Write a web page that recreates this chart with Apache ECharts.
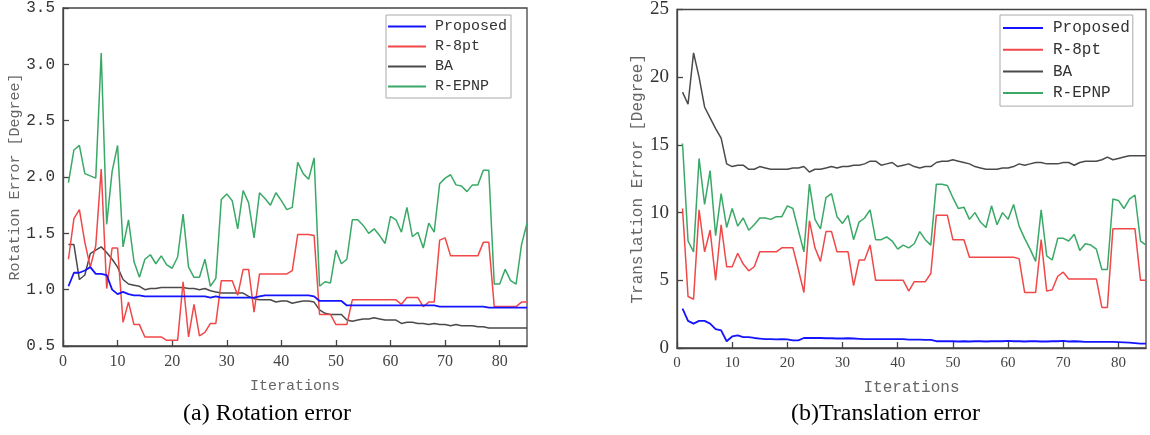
<!DOCTYPE html>
<html>
<head>
<meta charset="utf-8">
<script src="https://cdn.jsdelivr.net/npm/echarts@6/dist/echarts.min.js"></script>
<style>
html,body{margin:0;padding:0;background:#fff;}
#chart{width:1150px;height:435px;}
</style>
</head>
<body>
<div id="chart"></div>
<script>
// ---------- data ----------
const seriesNames = ['Proposed', 'R-8pt', 'BA', 'R-EPNP'];
const iterations = Array.from({length: 85}, (_, k) => k + 1);

const rotProposed = [1.03,1.15,1.15,1.17,1.20,1.14,1.14,1.13,1.00,0.96,
  0.98,0.96,0.95,0.95,0.94,0.94,0.94,0.94,0.94,0.94,
  0.94,0.94,0.94,0.94,0.94,0.94,0.93,0.94,0.93,0.93,
  0.93,0.93,0.93,0.93,0.93,0.94,0.95,0.95,0.95,0.95,
  0.95,0.95,0.95,0.95,0.95,0.94,0.90,0.90,0.90,0.90,
  0.90,0.86,0.86,0.86,0.86,0.86,0.86,0.86,0.86,0.86,
  0.86,0.86,0.86,0.86,0.86,0.86,0.86,0.86,0.85,0.85,
  0.85,0.85,0.85,0.85,0.85,0.85,0.85,0.84,0.84,0.84,
  0.84,0.84,0.84,0.84,0.84];
const rotR8pt = [1.27,1.63,1.71,1.42,1.20,1.39,2.07,1.01,1.37,1.37,
  0.71,0.89,0.69,0.69,0.58,0.58,0.58,0.58,0.55,0.55,
  0.55,1.07,0.58,0.87,0.59,0.62,0.70,0.70,1.08,1.08,
  1.08,0.95,1.18,1.18,0.80,1.14,1.14,1.14,1.14,1.14,
  1.14,1.17,1.49,1.49,1.49,1.48,0.78,0.78,0.78,0.69,
  0.69,0.69,0.91,0.91,0.91,0.91,0.91,0.91,0.91,0.91,
  0.91,0.87,0.93,0.93,0.93,0.85,0.89,0.89,1.44,1.46,
  1.30,1.30,1.30,1.30,1.30,1.30,1.42,1.42,0.85,0.85,
  0.85,0.85,0.85,0.89,0.89];
const rotBA = [1.40,1.40,1.09,1.13,1.32,1.35,1.38,1.33,1.27,1.20,
  1.09,1.05,1.04,1.03,1.00,1.01,1.01,1.02,1.02,1.02,
  1.02,1.02,1.01,1.01,1.00,1.01,0.99,0.98,0.97,0.97,
  0.97,0.97,0.97,0.94,0.92,0.91,0.91,0.91,0.89,0.90,
  0.90,0.88,0.89,0.90,0.90,0.89,0.82,0.79,0.78,0.78,
  0.78,0.73,0.72,0.73,0.74,0.74,0.75,0.74,0.73,0.73,
  0.73,0.70,0.71,0.71,0.70,0.70,0.69,0.70,0.69,0.69,
  0.68,0.69,0.68,0.68,0.68,0.67,0.67,0.66,0.66,0.66,
  0.66,0.66,0.66,0.66,0.66];
const rotREPNP = [1.95,2.24,2.28,2.03,2.01,1.99,3.10,1.58,2.05,2.28,
  1.38,1.62,1.25,1.11,1.27,1.31,1.23,1.30,1.22,1.19,
  1.29,1.67,1.20,1.11,1.11,1.27,1.03,1.10,1.80,1.85,
  1.79,1.54,1.88,1.77,1.46,1.86,1.81,1.75,1.86,1.79,
  1.71,1.73,2.13,2.03,1.98,2.17,1.03,1.07,1.06,1.35,
  1.23,1.27,1.62,1.62,1.57,1.50,1.54,1.48,1.41,1.65,
  1.62,1.51,1.73,1.47,1.51,1.37,1.59,1.51,1.94,1.99,
  2.02,1.93,1.92,1.87,1.93,1.93,2.06,2.06,1.05,1.05,
  1.18,1.08,1.05,1.40,1.59];

const transProposed = [2.9,2.0,1.8,2.0,2.0,1.8,1.4,1.3,0.5,0.85,
  0.93,0.8,0.8,0.74,0.7,0.66,0.66,0.64,0.66,0.64,
  0.56,0.56,0.74,0.74,0.74,0.74,0.72,0.72,0.7,0.7,
  0.72,0.7,0.68,0.66,0.66,0.66,0.66,0.65,0.65,0.65,
  0.65,0.62,0.62,0.62,0.6,0.6,0.5,0.5,0.5,0.5,
  0.48,0.5,0.48,0.5,0.5,0.48,0.5,0.5,0.5,0.52,
  0.5,0.5,0.48,0.5,0.5,0.48,0.48,0.5,0.5,0.52,
  0.48,0.5,0.48,0.45,0.45,0.45,0.45,0.45,0.45,0.44,
  0.42,0.4,0.36,0.32,0.32];
const transR8pt = [10.3,3.8,3.6,10.2,7.1,8.7,5.0,9.1,6.0,6.0,
  7.0,6.2,5.7,6.0,7.1,7.1,7.1,7.1,7.4,7.4,
  7.4,5.8,4.1,9.4,7.4,6.4,8.6,8.6,7.1,7.1,
  7.1,4.6,6.5,6.5,7.6,5.0,5.0,5.0,5.0,5.0,
  5.0,4.2,4.9,4.9,4.9,5.5,9.8,9.8,9.8,8.0,
  8.0,8.0,6.7,6.7,6.7,6.7,6.7,6.7,6.7,6.7,
  6.7,6.6,4.1,4.1,4.1,8.0,4.2,4.3,5.3,5.6,
  5.1,5.1,5.1,5.1,5.1,5.1,3.0,3.0,8.8,8.8,
  8.8,8.8,8.8,5.0,5.0];
const transBA = [18.9,18.0,21.8,20.0,17.8,17.0,16.2,15.5,13.6,13.4,
  13.5,13.5,13.2,13.2,13.4,13.3,13.2,13.2,13.2,13.2,
  13.3,13.3,13.4,13.0,13.2,13.2,13.3,13.4,13.3,13.4,
  13.4,13.5,13.5,13.6,13.8,13.8,13.5,13.6,13.7,13.4,
  13.5,13.6,13.4,13.3,13.4,13.4,13.7,13.8,13.8,13.9,
  13.8,13.7,13.6,13.4,13.3,13.2,13.2,13.2,13.3,13.3,
  13.4,13.6,13.5,13.6,13.7,13.7,13.6,13.6,13.6,13.7,
  13.7,13.5,13.7,13.8,13.8,13.8,13.9,14.1,13.9,14.0,
  14.1,14.2,14.2,14.2,14.2];
const transREPNP = [15.1,7.9,7.1,14.0,10.6,13.1,8.3,11.4,8.9,10.3,
  9.0,9.6,8.7,9.1,9.6,9.6,9.5,9.7,9.7,10.5,
  10.3,8.7,7.1,12.1,9.5,8.8,11.1,11.4,9.7,9.2,
  9.8,8.0,9.3,9.6,10.2,8.0,8.0,8.2,7.9,7.3,
  7.6,7.4,7.7,8.6,8.0,7.6,12.1,12.1,12.0,11.1,
  10.3,10.4,9.5,10.0,9.3,8.9,10.5,9.1,10.0,9.5,
  10.6,9.0,8.1,7.3,6.4,10.2,6.8,6.5,8.1,8.1,
  7.9,8.4,7.2,7.7,7.6,7.3,5.8,5.8,11.0,10.9,
  10.3,11.0,11.3,7.9,7.6];

const xTickValues = [0,10,20,30,40,50,60,70,80];
const rotTickLabels = ['0.5','1.0','1.5','2.0','2.5','3.0','3.5'];
const transTickLabels = ['0','5','10','15','20','25'];
const captions = ['(a) Rotation error', '(b)Translation error'];
const yNames = ['Rotation Error [Degree]', 'Translation Error [Degree]'];
const xName = 'Iterations';

// ---------- styles ----------
const colors = ['#1414ff', '#f04848', '#4a4a4a', '#3aa866'];
const widths = [1.8, 1.5, 1.5, 1.5];
const MONO = '"Liberation Mono", "DejaVu Sans Mono", monospace';
const SERIF = '"Liberation Serif", "DejaVu Serif", serif';
const axisColor = '#444';

function pairs(arr){ return arr.map((v, k) => [iterations[k], v]); }

const rotData = [rotProposed, rotR8pt, rotBA, rotREPNP];
const transData = [transProposed, transR8pt, transBA, transREPNP];

const series = [];
[rotData, transData].forEach((group, gi) => {
  group.forEach((arr, si) => {
    series.push({
      name: seriesNames[si],
      type: 'line',
      xAxisIndex: gi, yAxisIndex: gi,
      data: pairs(arr),
      symbol: 'none',
      smooth: false,
      z: 10 - si,
      lineStyle: {color: colors[si], width: widths[si]},
      itemStyle: {color: colors[si]},
      animation: false
    });
  });
});

function xAxis(gi, fs, nameFs, gap){
  return {
    type: 'value', gridIndex: gi, min: 0, max: 85, interval: 10,
    name: xName, nameLocation: 'middle', nameGap: gap,
    nameTextStyle: {fontFamily: MONO, fontSize: nameFs, color: '#666'},
    axisLine: {show: true, lineStyle: {color: axisColor, width: 1.3}},
    axisTick: {show: true, inside: true, length: 6, lineStyle: {color: axisColor, width: 1.3}},
    axisLabel: {show: true, showMaxLabel: false, margin: 8, fontFamily: SERIF, fontSize: fs, color: '#444',
      formatter: v => xTickValues.indexOf(v) >= 0 ? String(v) : ''},
    splitLine: {show: false}
  };
}
function yAxis(gi, min, max, interval, labels, fam, fs, nameFs, gap){
  return {
    type: 'value', gridIndex: gi, min: min, max: max, interval: interval,
    name: yNames[gi], nameLocation: 'middle', nameGap: gap, nameRotate: 90,
    nameTextStyle: {fontFamily: MONO, fontSize: nameFs, color: '#666'},
    axisLine: {show: true, lineStyle: {color: axisColor, width: 1.3}},
    axisTick: {show: true, inside: true, length: 6, lineStyle: {color: axisColor, width: 1.3}},
    axisLabel: {show: true, margin: 8, fontFamily: fam, fontSize: fs, color: '#333',
      formatter: v => labels[Math.round((v - min) / interval)]},
    splitLine: {show: false}
  };
}

const option = {
  backgroundColor: '#fff',
  animation: false,
  grid: [
    {left: 63, top: 8, width: 464, height: 338, show: true, borderColor: axisColor, borderWidth: 1.3, containLabel: false},
    {left: 677, top: 8, width: 469, height: 340, show: true, borderColor: axisColor, borderWidth: 1.3, containLabel: false}
  ],
  xAxis: [xAxis(0, 16, 15, 33), xAxis(1, 15, 16, 32)],
  yAxis: [
    yAxis(0, 0.5, 3.5, 0.5, rotTickLabels, MONO, 16, 15, 40),
    yAxis(1, 0, 25, 5, transTickLabels, SERIF, 19, 16, 31)
  ],
  legend: [
    {data: seriesNames, orient: 'vertical', left: 386, top: 15,
     icon: 'rect', itemWidth: 38, itemHeight: 2, itemGap: 5,
     padding: [4, 4, 4, 2], borderColor: '#aaa', borderWidth: 1, backgroundColor: '#fff',
     textStyle: {fontFamily: MONO, fontSize: 15, lineHeight: 15, color: '#333', padding: [0, 0, 0, 4]}},
    {data: seriesNames, orient: 'vertical', left: 1000, top: 15,
     icon: 'rect', itemWidth: 40, itemHeight: 2, itemGap: 5.7,
     padding: [5, 3, 5, 3], borderColor: '#aaa', borderWidth: 1, backgroundColor: '#fff',
     textStyle: {fontFamily: MONO, fontSize: 16, lineHeight: 16, color: '#333', padding: [0, 0, 0, 5]}}
  ],
  graphic: [
    {type: 'text', left: 183, top: 402, style: {text: captions[0], font: '24px ' + SERIF, fill: '#000'}},
    {type: 'text', left: 791, top: 402, style: {text: captions[1], font: '24px ' + SERIF, fill: '#000'}}
  ],
  series: series
};

const chart = echarts.init(document.getElementById('chart'), null, {renderer: 'canvas'});
chart.setOption(option);
</script>
</body>
</html>
